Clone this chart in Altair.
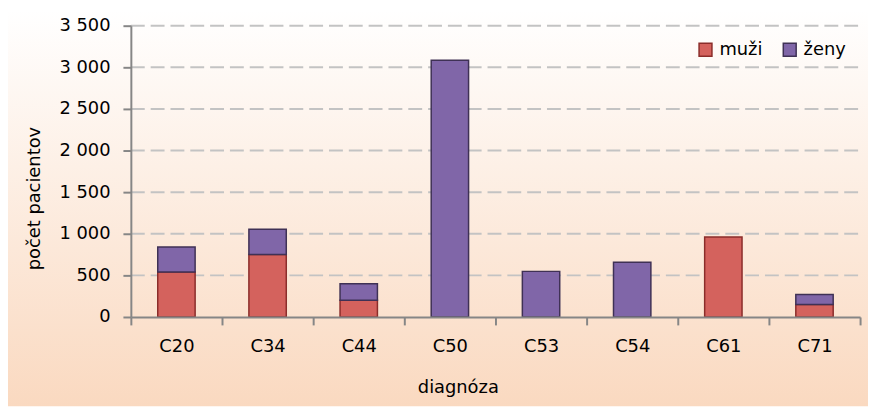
import altair as alt
import pandas as pd

categories = ["C20", "C34", "C44", "C50", "C53", "C54", "C61", "C71"]
muzi = [540, 750, 200, 0, 0, 0, 960, 150]
zeny = [300, 305, 200, 3085, 548, 658, 0, 120]
series = ["muži", "ženy"]
fill_colors = ["#D4625D", "#8066A8"]
edge_colors = ["#8B2D2A", "#3F3155"]
y_ticks = [0, 500, 1000, 1500, 2000, 2500, 3000, 3500]
grid_values = y_ticks[1:]

rows = []
for c, m, z in zip(categories, muzi, zeny):
    if m > 0:
        rows.append({"diagnoza": c, "pohlavie": "muži", "pocet": m, "poradie": 0})
    if z > 0:
        rows.append({"diagnoza": c, "pohlavie": "ženy", "pocet": z, "poradie": 1})
df = pd.DataFrame(rows)

W, H = 736, 294
PAD = {"left": 124, "top": 16, "right": 8, "bottom": 90}
FONT = "DejaVu Sans"

yscale = alt.Scale(domain=[0, 3500], nice=False)

yaxis = alt.Axis(
    title="počet pacientov", values=y_ticks, grid=False,
    labelExpr="replace(format(datum.value, ','), ',', ' ')",
    domainColor="#868686", domainWidth=2, tickColor="#868686", tickWidth=2, tickSize=8,
    labelFont=FONT, labelFontSize=18, labelColor="#000000", labelPadding=13,
    titleFont=FONT, titleFontSize=18, titleFontWeight="normal", titleColor="#000000",
    titleX=-97, titleY=174, titleAngle=270, titleAlign="center", titleBaseline="middle",
    zindex=1,
)

bg = alt.Chart(pd.DataFrame({"a": [0]})).mark_rect(
    fill=alt.Gradient(
        gradient="linear",
        stops=[alt.GradientStop(color="#FFFFFF", offset=0),
               alt.GradientStop(color="#FAD9C0", offset=1)],
        x1=0, x2=0, y1=0, y2=1,
    )
).encode(
    x=alt.value(-PAD["left"]), x2=alt.value(W + PAD["right"]),
    y=alt.value(-PAD["top"]), y2=alt.value(H + PAD["bottom"]),
)

grid = alt.Chart(pd.DataFrame({"v": grid_values})).mark_rule(
    color="#C3C3C3", strokeWidth=2, strokeDash=[14, 6]
).encode(
    y=alt.Y("v:Q", scale=yscale, axis=yaxis),
    x=alt.value(0), x2=alt.value(W),
)

legend = alt.Legend(
    title=None, orient="none", legendX=571, legendY=15, direction="horizontal",
    symbolType="square", symbolSize=169, symbolStrokeWidth=1.5,
    labelFont=FONT, labelFontSize=18, labelColor="#000000",
    columnPadding=17, labelOffset=5, padding=0,
)

bars = alt.Chart(df).mark_bar(strokeWidth=1.5, width=alt.RelativeBandSize(0.41)).encode(
    x=alt.X(
        "diagnoza:N", sort=categories,
        scale=alt.Scale(paddingInner=0, paddingOuter=0),
        axis=alt.Axis(
            title="diagnóza", labelAngle=0, tickBand="extent",
            domainColor="#868686", domainWidth=2, tickColor="#868686", tickWidth=2, tickSize=8,
            labelFont=FONT, labelFontSize=18, labelColor="#000000", labelPadding=13,
            titleFont=FONT, titleFontSize=18, titleFontWeight="normal", titleColor="#000000",
            titleX=330, titleY=71, titleAlign="center", titleBaseline="middle",
            zindex=1,
        ),
    ),
    y=alt.Y("pocet:Q", stack="zero", scale=yscale, axis=yaxis),
    fill=alt.Fill("pohlavie:N", scale=alt.Scale(domain=series, range=fill_colors), legend=legend),
    stroke=alt.Stroke("pohlavie:N", scale=alt.Scale(domain=series, range=edge_colors), legend=legend),
    order=alt.Order("poradie:Q"),
)

chart = alt.layer(bg, grid, bars).properties(
    width=W, height=H, padding=PAD,
    autosize=alt.AutoSizeParams(type="none"),
).configure_view(stroke=None).configure(font=FONT)

chart.save("out.html", embed_options={"renderer": "svg", "actions": False})
